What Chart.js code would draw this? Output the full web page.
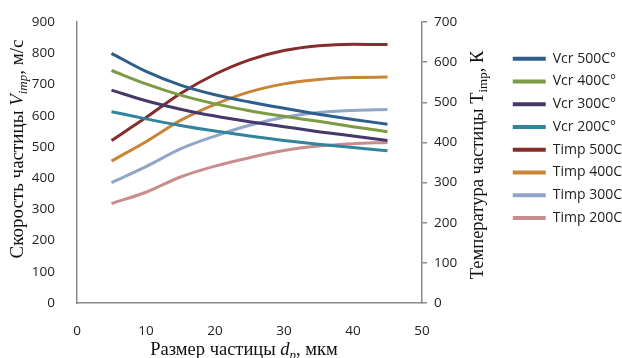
<!DOCTYPE html>
<html>
<head>
<meta charset="utf-8">
<title>Скорость и температура частиц</title>
<style>
  html, body { margin: 0; padding: 0; background: #fff; }
</style>
</head>
<body>
<canvas id="MyCanvas" width="622" height="358"></canvas>
<script src="https://cdn.jsdelivr.net/npm/chart.js@4.4.0/dist/chart.umd.min.js"></script>
<script>
// particle size, um
const sizes = [5, 10, 15, 20, 25, 30, 35, 40, 45];
// impact velocity, m/s (left axis)
const vcr500 = [800, 742, 698, 667, 644, 624, 605, 588, 573];
const vcr400 = [745, 702, 666, 638, 616, 598, 582, 565, 549];
const vcr300 = [682, 648, 621, 599, 581, 565, 549, 535, 521];
const vcr200 = [613, 590, 569, 551, 535, 521, 509, 498, 488];
// particle temperature, K (right axis)
const timp500 = [405, 462, 522, 570, 606, 629, 641, 645, 644];
const timp400 = [354, 402, 455, 495, 526, 546, 557, 562, 563];
const timp300 = [300, 340, 384, 416, 443, 463, 475, 480, 482];
const timp200 = [248, 276, 314, 341, 362, 380, 391, 397, 400];

const labels = ['Vcr 500C°', 'Vcr 400C°', 'Vcr 300C°', 'Vcr 200C°',
                'Timp 500C°', 'Timp 400C°', 'Timp 300C°', 'Timp 200C°'];
const colors = ['#2E5E8C', '#7C9B44', '#463869', '#31849B',
                '#862C2C', '#C98434', '#8FA6C8', '#C98D8D'];
const series = [vcr500, vcr400, vcr300, vcr200, timp500, timp400, timp300, timp200];

const datasets = series.map((s, i) => ({
  label: labels[i],
  data: s.map((v, j) => ({x: sizes[j], y: v})),
  borderColor: colors[i],
  backgroundColor: colors[i],
  borderWidth: 3,
  pointRadius: 0,
  cubicInterpolationMode: 'monotone',
  yAxisID: i < 4 ? 'y' : 'y2'
}));

const tickFont = {family: 'Open Sans', size: 13.5};
const axisColor = '#8A8A8A';

// axis titles with italic / subscript parts
function drawRuns(ctx, runs, x, y, rot) {
  ctx.save();
  ctx.translate(x, y);
  ctx.rotate(rot);
  let total = 0;
  runs.forEach(r => { ctx.font = r.f; r.w = ctx.measureText(r.t).width; total += r.w; });
  let cx = -total / 2;
  ctx.fillStyle = '#111';
  ctx.textBaseline = 'alphabetic';
  runs.forEach(r => { ctx.font = r.f; ctx.fillText(r.t, cx, r.dy || 0); cx += r.w; });
  ctx.restore();
}

const titles = {
  id: 'titles',
  afterDraw(chart) {
    const ctx = chart.ctx;
    const serif = '"Liberation Serif"';
    drawRuns(ctx, [
      {t: 'Скорость частицы ', f: '19px ' + serif},
      {t: 'V', f: 'italic 19px ' + serif},
      {t: 'imp', f: 'italic 13px ' + serif, dy: 4},
      {t: ', м/с', f: '19px ' + serif}
    ], 23, 149, -Math.PI / 2);
    drawRuns(ctx, [
      {t: 'Температура частицы T', f: '18.5px ' + serif},
      {t: 'imp', f: '13px ' + serif, dy: 4},
      {t: ', К', f: '18.5px ' + serif}
    ], 483, 165, -Math.PI / 2);
    drawRuns(ctx, [
      {t: 'Размер частицы ', f: '18.5px ' + serif},
      {t: 'd', f: 'italic 18.5px ' + serif},
      {t: 'p', f: 'italic 13px ' + serif, dy: 4},
      {t: ', мкм', f: '18.5px ' + serif}
    ], 244, 355, 0);
  }
};

const ctx = document.getElementById('MyCanvas').getContext('2d');
const myChart = new Chart(ctx, {
  type: 'line',
  data: {datasets: datasets},
  plugins: [titles],
  options: {
    responsive: false,
    animation: false,
    devicePixelRatio: 1,
    layout: {padding: {top: 21, right: 0, left: 0, bottom: 0}},
    plugins: {
      tooltip: {enabled: false},
      legend: {
        position: 'right',
        align: 'start',
        maxWidth: 118,
        title: {display: true, text: ' ', font: {size: 10}, padding: {top: 10, bottom: 0}},
        labels: {
          boxWidth: 33,
          boxHeight: 4,
          padding: 8.75,
          color: '#222',
          font: {family: 'Open Sans', size: 14},
          generateLabels: chart => Chart.defaults.plugins.legend.labels.generateLabels(chart)
            .map(l => Object.assign(l, {lineWidth: 0, fillStyle: l.strokeStyle}))
        }
      }
    },
    scales: {
      x: {
        type: 'linear',
        min: 0, max: 50,
        ticks: {stepSize: 10, color: '#222', font: tickFont, padding: 12, maxRotation: 0},
        grid: {display: false},
        border: {color: axisColor, width: 1.5},
        afterFit: s => { s.height = 55; }
      },
      y: {
        position: 'left',
        min: 0, max: 900,
        ticks: {stepSize: 100, color: '#222', font: tickFont, padding: 14},
        grid: {display: false},
        border: {color: axisColor, width: 1.5},
        afterFit: s => { s.width = 77; }
      },
      y2: {
        position: 'right',
        min: 0, max: 700,
        ticks: {stepSize: 100, color: '#222', font: tickFont, padding: 7},
        grid: {drawOnChartArea: false, drawTicks: true, tickLength: 5, color: axisColor, lineWidth: 1.5},
        border: {color: axisColor, width: 1.5},
        afterFit: s => { s.width = 82; }
      }
    }
  }
});
</script>
</body>
</html>
